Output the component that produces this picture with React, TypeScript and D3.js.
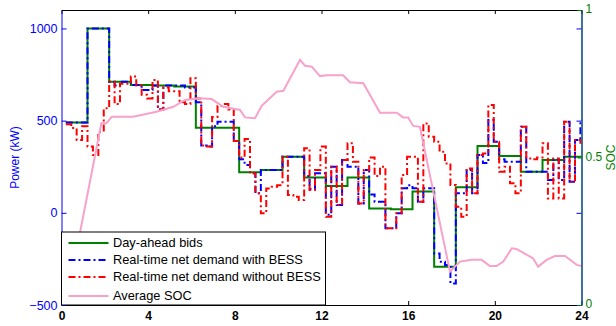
import * as d3 from "d3";
import { useRef, useEffect } from "react";

// hourly day-ahead bids (kW), first step starts at 0.2 h
const bidStart = 0.2;
const bidValues = [490, 1000, 711, 693, 690, 685, 462, 462, 220, 232, 304, 192, 145, 192, 24, 19, 115, -292, 138, 362, 308, 223, 286, 304];

// 15-min real-time net demand (kW)
const rtStep = 0.25;
const withBess = [
  490, 490, 490, 490, 1000, 1000, 1000, 1000, 711, 690, 711, 711, 693, 693, 666, 666,
  690, 560, 690, 690, 690, 690, 680, 680, 600, 365, 360, 470, 494, 494, 494, 390,
  290, 260, 214, 106, 232, 232, 232, 232, 304, 304, 304, 304, 200, 130, 214, 214,
  -10, 250, 42, 286, 250, 250, 51, 232, 100, 60, 60, -84, -84, -3, 133, 150,
  133, 60, 133, 133, -220, -265, -283, -383, 106, 106, 232, 106, 313, 270, 503, 386,
  290, 277, 277, 277, 467, 223, 223, 223, 223, 178, 290, 178, 494, 169, 395, 503,
];
const withoutBess = [
  480, 460, 395, 470, 359, 313, 440, 567, 711, 590, 700, 700, 740, 690, 640, 620,
  720, 560, 680, 660, 660, 600, 590, 730, 620, 365, 360, 520, 580, 590, 560, 390,
  300, 400, 214, 106, -3, 132, 142, 150, 304, 97, 87, 69, 350, 124, 232, 359,
  -21, 250, 42, 286, 377, 277, 51, 232, 300, 200, 250, -84, -84, -3, 205, 304,
  304, 60, 485, 413, 386, 331, 268, 151, 33, -21, 241, 106, 313, 322, 585, 386,
  223, 250, 160, 106, 467, 295, 290, 300, 377, 78, 295, 78, 494, 169, 395, 380,
];

// average SOC
const socTimes = [0.2, 1.84, 2.07, 2.32, 3.3, 4.39, 5.16, 5.7, 6.39, 6.93, 7.47, 8.24, 8.47, 8.93, 9.24, 9.93, 10.24, 11.01, 11.24, 11.55, 11.93, 12.24, 13.0, 13.31, 13.93, 14.24, 14.7, 15.47, 15.77, 16.0, 16.23, 16.54, 17.93, 18.39, 18.93, 19.39, 19.77, 20.08, 20.39, 20.78, 21.0, 21.77, 22.0, 22.39, 22.77, 23.24, 23.78, 24.0];
const socValues = [0, 0.616, 0.616, 0.638, 0.638, 0.655, 0.672, 0.695, 0.701, 0.698, 0.672, 0.661, 0.636, 0.633, 0.675, 0.723, 0.726, 0.831, 0.811, 0.808, 0.776, 0.779, 0.779, 0.755, 0.752, 0.712, 0.652, 0.652, 0.636, 0.636, 0.607, 0.604, 0.113, 0.147, 0.153, 0.153, 0.132, 0.132, 0.147, 0.192, 0.19, 0.158, 0.13, 0.153, 0.166, 0.166, 0.136, 0.132];

const xTicks = [0, 4, 8, 12, 16, 20, 24];
const powerTicks = [-500, 0, 500, 1000];
const socTicks = [0, 0.5, 1];
const legendLabels = ["Day-ahead bids", "Real-time net demand with BESS", "Real-time net demand without BESS", "Average SOC"];

const FONT = "Arial, 'Liberation Sans', sans-serif";
const GREEN = "#008000";
const BLUE = "#0000ff";
const RED = "#ff0000";
const PINK = "#f7a1cb";
const DASHDOT = "7,3,2,3";

function Chart({
  width = 616,
  height = 326,
  marginTop = 10,
  marginRight = 34.5,
  marginBottom = 21,
  marginLeft = 61.5,
}: {
  width?: number;
  height?: number;
  marginTop?: number;
  marginRight?: number;
  marginBottom?: number;
  marginLeft?: number;
}) {
  const svgRef = useRef<SVGSVGElement | null>(null);

  useEffect(() => {
    const svg = d3.select(svgRef.current);
    svg.selectAll("*").remove();
    svg.attr("width", width).attr("height", height).attr("viewBox", [0, 0, width, height]);

    const left = marginLeft, right = width - marginRight;
    const top = marginTop, bottom = height - marginBottom;

    const x = d3.scaleLinear().domain([0, 24]).range([left, right]);
    const y = d3.scaleLinear().domain([-500, 1100]).range([bottom, top]);
    const ySoc = d3.scaleLinear().domain([0, 1]).range([bottom, top]);

    svg.append("rect").attr("width", width).attr("height", height).attr("fill", "white");

    svg.append("clipPath").attr("id", "plot-clip")
      .append("rect").attr("x", left).attr("y", top).attr("width", right - left).attr("height", bottom - top);

    // step series -> points with end point
    const bidPts: [number, number][] = bidValues.map((v, i) => [bidStart + i, v]);
    bidPts.push([bidStart + bidValues.length, bidValues[bidValues.length - 1]]);
    const stepPts = (arr: number[]) => {
      const p: [number, number][] = arr.map((v, i) => [bidStart + i * rtStep, v]);
      p.push([bidStart + arr.length * rtStep, arr[arr.length - 1]]);
      return p;
    };

    const stepLine = d3.line<[number, number]>()
      .x((d) => x(d[0]))
      .y((d) => y(d[1]))
      .curve(d3.curveStepAfter);

    const socLine = d3.line<number>()
      .x((_, i) => x(socTimes[i]))
      .y((d) => ySoc(d));

    const g = svg.append("g").attr("clip-path", "url(#plot-clip)").attr("fill", "none");
    g.append("path").attr("d", stepLine(bidPts)).attr("stroke", GREEN).attr("stroke-width", 2);
    g.append("path").attr("d", stepLine(stepPts(withBess))).attr("stroke", BLUE).attr("stroke-width", 2).attr("stroke-dasharray", DASHDOT);
    g.append("path").attr("d", stepLine(stepPts(withoutBess))).attr("stroke", RED).attr("stroke-width", 2).attr("stroke-dasharray", DASHDOT);
    g.append("path").attr("d", socLine(socValues)).attr("stroke", PINK).attr("stroke-width", 2);

    // top & bottom axes
    svg.append("g")
      .attr("transform", `translate(0,${top})`)
      .call(d3.axisTop(x).tickValues(xTicks).tickSize(-4).tickSizeOuter(0).tickFormat(() => ""))
      .call((a) => a.selectAll("path,line").attr("stroke", "#000"));
    svg.append("g")
      .attr("transform", `translate(0,${bottom})`)
      .call(d3.axisBottom(x).tickValues(xTicks).tickSize(-4).tickSizeOuter(0).tickPadding(6))
      .call((a) => a.selectAll("path,line").attr("stroke", "#000"))
      .call((a) => a.selectAll("text").attr("font-family", FONT).attr("font-size", 12).attr("font-weight", "bold").attr("fill", "#000"));

    // left power axis
    svg.append("g")
      .attr("transform", `translate(${left},0)`)
      .call(d3.axisLeft(y).tickValues(powerTicks).tickSize(-5).tickSizeOuter(0).tickPadding(4).tickFormat(d3.format("d")))
      .call((a) => a.selectAll("path,line").attr("stroke", BLUE))
      .call((a) => a.selectAll("text").attr("font-family", FONT).attr("font-size", 12.5).attr("fill", BLUE));
    // mirrored power ticks on right
    svg.append("g")
      .attr("transform", `translate(${right},0)`)
      .call(d3.axisRight(y).tickValues(powerTicks).tickSize(-5).tickSizeOuter(0).tickFormat(() => ""))
      .call((a) => a.selectAll("path,line").attr("stroke", BLUE));
    // right SOC axis
    svg.append("g")
      .attr("transform", `translate(${right},0)`)
      .call(d3.axisRight(ySoc).tickValues(socTicks).tickSize(-4).tickSizeOuter(0).tickPadding(4).tickFormat((d) => `${d}`))
      .call((a) => a.select(".domain").attr("stroke", "#146b5a").attr("stroke-width", 1.2))
      .call((a) => a.selectAll("line").attr("stroke", GREEN))
      .call((a) => a.selectAll("text").attr("font-family", FONT).attr("font-size", 12).attr("dy", "0.22em").attr("fill", GREEN));

    svg.append("text")
      .attr("transform", `translate(19,${(top + bottom) / 2}) rotate(-90)`)
      .attr("text-anchor", "middle")
      .attr("font-family", FONT).attr("font-size", 12).attr("fill", BLUE)
      .text("Power (kW)");
    svg.append("text")
      .attr("transform", `translate(614.5,${(top + bottom) / 2}) rotate(-90)`)
      .attr("text-anchor", "middle")
      .attr("font-family", FONT).attr("font-size", 12).attr("fill", GREEN)
      .text("SOC");

    // legend
    const lg = svg.append("g").attr("transform", `translate(${left},232)`);
    lg.append("rect").attr("width", 264).attr("height", bottom - 232).attr("fill", "white").attr("stroke", "#000").attr("stroke-width", 1);
    const styles = [
      { c: GREEN, dash: null },
      { c: BLUE, dash: DASHDOT },
      { c: RED, dash: DASHDOT },
      { c: PINK, dash: null },
    ];
    const rowY = [11, 28, 45, 64];
    legendLabels.forEach((label, i) => {
      lg.append("line")
        .attr("x1", 7).attr("x2", 47).attr("y1", rowY[i]).attr("y2", rowY[i])
        .attr("stroke", styles[i].c).attr("stroke-width", 2)
        .attr("stroke-dasharray", styles[i].dash);
      lg.append("text")
        .attr("x", 51.5).attr("y", rowY[i]).attr("dy", "0.35em")
        .attr("font-family", FONT).attr("font-size", 12.8).attr("fill", "#000")
        .text(label);
    });
  }, [width, height, marginTop, marginRight, marginBottom, marginLeft]);

  return <svg ref={svgRef} style={{ position: "absolute", left: 0, top: 0 }}></svg>;
}

export default function App() {
  return <Chart />;
}
